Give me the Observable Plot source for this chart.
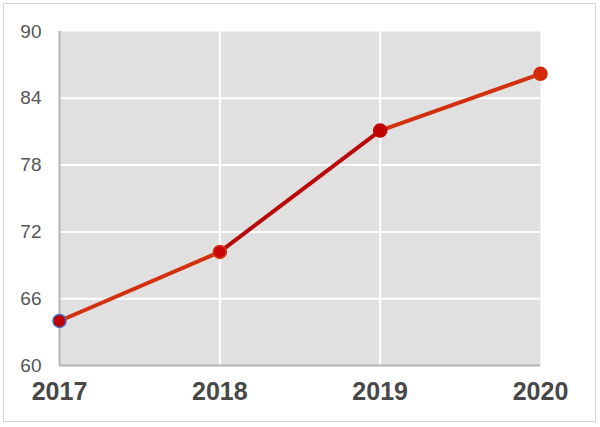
<!DOCTYPE html>
<html>
<head>
<meta charset="utf-8">
<script src="https://cdn.jsdelivr.net/npm/d3@7"></script>
<script src="https://cdn.jsdelivr.net/npm/@observablehq/plot@0.6"></script>
<style>
  html, body { margin: 0; padding: 0; background: #fff; }
  #wrap { position: relative; width: 600px; height: 427px; }
  #border { position: absolute; left: 3px; top: 3px; width: 591px; height: 417px; border: 1.5px solid #d6d6d6; pointer-events: none; }
  #chart svg { display: block; }
</style>
</head>
<body>
<div id="wrap"><div id="chart"></div><div id="border"></div></div>
<script>
// Data
const years = [2017, 2018, 2019, 2020];
const values = [64, 70.2, 81.1, 86.2];
const yTicks = [60, 66, 72, 78, 84, 90];

// Styles (kept separate from data)
const segmentColors = ["#d2300e", "#b80a0a", "#d2300e"];
const pointFills = ["#c00000", "#c80404", "#c20000", "#d42a0c"];
const pointStrokes = ["#4a68c0", "#d8360e", "#c20000", "#d42a0c"];

const points = years.map((year, i) => ({year, value: values[i], i}));
const segments = points.slice(0, -1).map((p, i) => ({
  x1: p.year, y1: p.value, x2: points[i + 1].year, y2: points[i + 1].value, i
}));

const chart = Plot.plot({
  width: 600,
  height: 427,
  marginLeft: 59,
  marginRight: 60,
  marginTop: 31,
  marginBottom: 62,
  style: {fontFamily: "Liberation Sans, Arial, sans-serif", background: "transparent"},
  x: {domain: [2017, 2020], axis: null},
  y: {domain: [60, 90], axis: null},
  marks: [
    Plot.frame({fill: "#e0e0e0", stroke: null}),
    Plot.ruleY(yTicks.filter(d => d > 60 && d < 90), {stroke: "#ffffff", strokeWidth: 2}),
    Plot.ruleX(years.filter(d => d > 2017 && d < 2020), {stroke: "#ffffff", strokeWidth: 2}),
    Plot.ruleX([2017], {stroke: "#b4b4b4", strokeWidth: 2}),
    Plot.ruleY([60], {stroke: "#b4b4b4", strokeWidth: 2}),
    Plot.axisY({
      ticks: yTicks, tickSize: 0, tickPadding: 18, fontSize: 19,
      fill: "#555", tickFormat: d => String(d), label: null
    }),
    Plot.axisX({
      ticks: years, tickSize: 0, tickPadding: 17, fontSize: 25, fontWeight: "bold",
      fill: "#484848", tickFormat: d => String(d), label: null
    }),
    Plot.link(segments, {
      x1: "x1", y1: "y1", x2: "x2", y2: "y2",
      stroke: d => segmentColors[d.i], strokeWidth: 4, strokeLinecap: "round"
    }),
    Plot.dot(points, {
      x: "year", y: "value", r: 6.5,
      fill: d => pointFills[d.i], stroke: d => pointStrokes[d.i], strokeWidth: 1.5
    })
  ]
});
document.getElementById("chart").appendChild(chart);
</script>
</body>
</html>
